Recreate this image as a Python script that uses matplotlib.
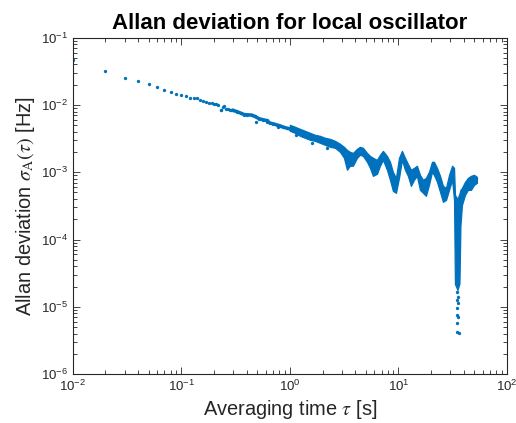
import matplotlib
matplotlib.use('Agg')
import matplotlib.pyplot as plt
import numpy as np

# sparse points at short averaging times
tau_pts = [0.01, 0.02, 0.03, 0.04, 0.05, 0.06, 0.07, 0.08, 0.09, 0.10,
           0.11, 0.12, 0.13, 0.14, 0.15, 0.16, 0.17, 0.18, 0.19, 0.20,
           0.21, 0.22, 0.23, 0.24, 0.25, 0.26, 0.27, 0.28, 0.29, 0.30]
sig_pts = [0.0466, 0.0316, 0.0256, 0.0229, 0.0202, 0.0185, 0.0168, 0.0157, 0.0148, 0.0142,
           0.0134, 0.0128, 0.0127, 0.0126, 0.0117, 0.0115, 0.0109, 0.0108, 0.0107, 0.0104,
           0.0105, 0.00997, 0.0085, 0.0093, 0.0095, 0.0088, 0.0087, 0.0085, 0.0084, 0.0083]

# denser points between 0.3 s and 1 s
tau_mid = [0.30, 0.324, 0.352, 0.378, 0.405, 0.445, 0.477, 0.522, 0.569, 0.611,
           0.656, 0.703, 0.755, 0.811, 0.870, 0.934, 1.0]
sig_mid = [0.0083, 0.0080, 0.00757, 0.00722, 0.00715, 0.00708, 0.00675, 0.00624, 0.00603, 0.00588,
           0.00538, 0.00525, 0.00507, 0.00490, 0.00469, 0.00453, 0.00442]
tau_out = [0.488, 0.23, 0.62, 0.78, 1.15, 1.6, 2.2]
sig_out = [0.00568, 0.0085, 0.00560, 0.00470, 0.00360, 0.00275, 0.00230]

# dense band (upper / lower spread of the points) for tau >= 1 s
tau_band = [1.0, 1.114, 1.239, 1.377, 1.531, 1.703, 1.893, 2.105, 2.340, 2.602,
            2.893, 3.148, 3.357, 3.573, 3.811, 4.150, 4.416, 4.710, 5.129, 5.470,
            5.821, 6.339, 6.761, 7.194, 7.834, 8.356, 8.892, 9.484, 10.12, 10.77,
            11.48, 12.22, 13.03, 13.90, 14.79, 15.78, 16.83, 17.91, 19.10, 20.37,
            21.23, 22.65, 24.15, 25.70, 27.42, 29.24, 31.19, 32.51, 33.14, 34.94,
            36.45, 37.23, 38.46, 41.02, 43.65, 46.56, 49.66, 52.84]
sig_hi = [0.00507, 0.00474, 0.00442, 0.00413, 0.00386, 0.00360, 0.00348, 0.00325, 0.00314, 0.00293,
          0.00265, 0.00239, 0.00215, 0.00201, 0.00194, 0.00223, 0.00239, 0.00231, 0.00194, 0.00175,
          0.00164, 0.00153, 0.00182, 0.00208, 0.00175, 0.00143, 0.00101, 0.000825, 0.00164, 0.00208,
          0.00164, 0.00133, 0.00109, 0.00116, 0.00125, 0.000915, 0.000771, 0.000825, 0.00101, 0.00143,
          0.00143, 0.00116, 0.000884, 0.000627, 0.000586, 0.000915, 0.00125, 0.00116, 0.000461, 0.000400,
          0.000480, 0.000547, 0.000586, 0.000720, 0.000825, 0.000884, 0.000915, 0.000854]
sig_lo = [0.00413, 0.00386, 0.00348, 0.00325, 0.00304, 0.00293, 0.00274, 0.00256, 0.00239, 0.00231,
          0.00201, 0.00164, 0.00109, 0.00125, 0.00125, 0.00164, 0.00182, 0.00175, 0.00143, 0.00116,
          0.000884, 0.000947, 0.00125, 0.00153, 0.00109, 0.000771, 0.000529, 0.000494, 0.000825, 0.00153,
          0.00109, 0.000884, 0.000627, 0.000771, 0.000884, 0.000547, 0.000494, 0.000446, 0.000649, 0.00101,
          0.000915, 0.000720, 0.000511, 0.000363, 0.000388, 0.000547, 0.000771, 0.000388, 0.0000218, 0.0000178,
          0.0000220, 0.000160, 0.000327, 0.000461, 0.000547, 0.000547, 0.000649, 0.000696]

# isolated points at the bottom of the dip
tau_tail = [34.4, 35.0, 34.6, 35.5, 34.8, 34.4, 35.5, 34.4, 34.4, 36.3]
sig_tail = [1.68e-5, 1.41e-5, 1.26e-5, 1.13e-5, 9.5e-6, 7.55e-6, 7.13e-6, 5.74e-6, 4.26e-6, 4.03e-6]

blue = '#0072BD'
plt.rcParams['font.family'] = ['Liberation Sans', 'DejaVu Sans']
plt.rcParams['mathtext.fontset'] = 'stix'

fig = plt.figure(figsize=(5.16, 4.23), dpi=100)
ax = fig.add_axes([0.1409, 0.1158, 0.8417, 0.795])

ax.fill_between(tau_band, sig_lo, sig_hi, color=blue, edgecolor=blue, lw=0.9)
ax.plot(tau_mid, sig_mid, '-o', color=blue, lw=2.5, ms=2.4, mew=0)
ax.plot(tau_pts, sig_pts, 'o', color=blue, ms=2.4, mew=0)
ax.plot(tau_out, sig_out, 'o', color=blue, ms=2.4, mew=0)
ax.plot(tau_tail, sig_tail, 'o', color=blue, ms=2.4, mew=0)

ax.set_xscale('log')
ax.set_yscale('log')
ax.set_xlim(1e-2, 1e2)
ax.set_ylim(1e-6, 1e-1)

ax.set_title('Allan deviation for local oscillator', fontsize=16, fontweight='bold', pad=6)
ax.set_xlabel(r'Averaging time $\tau$ [s]', fontsize=14.4, color='#262626', labelpad=3)
ax.set_ylabel(r'Allan deviation $\sigma_{\mathrm{A}}(\tau)$ [Hz]', fontsize=14.4, color='#262626', labelpad=3)

for s in ax.spines.values():
    s.set_color('#262626')
    s.set_linewidth(0.8)
ax.tick_params(which='both', direction='in', top=True, right=True, colors='#262626', labelsize=9.5, width=0.6)
ax.tick_params(which='major', length=5)
ax.tick_params(which='minor', length=3)

fig.savefig('out.png', dpi=100)
